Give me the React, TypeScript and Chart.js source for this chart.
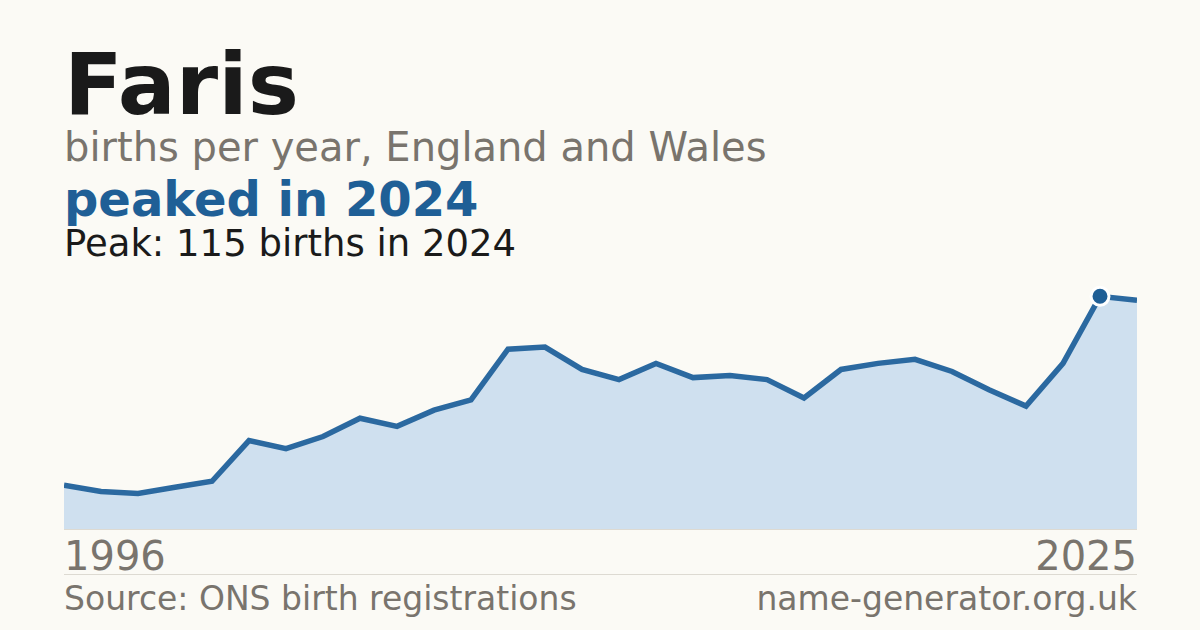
import { Chart, registerables } from 'chart.js';
import React, { useEffect, useRef } from 'react';

Chart.register(...registerables);

const years = [
    1996, 1997, 1998, 1999, 2000, 2001, 2002, 2003, 2004, 2005,
    2006, 2007, 2008, 2009, 2010, 2011, 2012, 2013, 2014, 2015,
    2016, 2017, 2018, 2019, 2020, 2021, 2022, 2023, 2024, 2025,
];
const births = [
    22, 19, 18, 21, 24, 44, 40, 46, 55, 51,
    59, 64, 89, 90, 79, 74, 82, 75, 76, 74,
    65, 79, 82, 84, 78, 69, 61, 82, 115, 113,
];
const peakYear = 2024;

const BG = '#fbfaf5';
const BLUE = '#1f5f96';
const GREY = '#79746d';
const FONT = '"DejaVu Sans", Verdana, sans-serif';

const baseline = {
    id: 'baseline',
    afterDatasetsDraw(chart: Chart) {
        const { ctx, chartArea } = chart;
        ctx.save();
        ctx.strokeStyle = '#dddad2';
        ctx.lineWidth = 1;
        ctx.beginPath();
        ctx.moveTo(chartArea.left, chartArea.bottom - 0.5);
        ctx.lineTo(chartArea.right, chartArea.bottom - 0.5);
        ctx.stroke();
        ctx.restore();
    },
};

const BirthsChart = () => {
    const chartRef = useRef<HTMLCanvasElement>(null);
    const chartInstance = useRef<Chart | null>(null);

    useEffect(() => {
        if (!chartRef.current) return;
        const context = chartRef.current.getContext('2d');
        if (chartInstance.current) chartInstance.current.destroy();

        const peakIdx = years.indexOf(peakYear);

        chartInstance.current = new Chart(context!, {
            type: 'line',
            data: {
                labels: years.map(String),
                datasets: [
                    {
                        data: births,
                        borderColor: '#2b69a0',
                        borderWidth: 5.5,
                        backgroundColor: '#cfe0ef',
                        fill: 'origin',
                        tension: 0,
                        clip: 0,
                        pointRadius: (c: any) => (c.dataIndex === peakIdx ? 9 : 0),
                        pointHoverRadius: 0,
                        pointBackgroundColor: BLUE,
                        pointBorderColor: '#ffffff',
                        pointBorderWidth: 3,
                    },
                ],
            },
            options: {
                responsive: false,
                animation: false,
                layout: { padding: 0 },
                plugins: {
                    legend: { display: false },
                    tooltip: { enabled: false },
                },
                scales: {
                    x: { display: false },
                    y: { display: false, min: 0, max: 125 },
                },
            },
            plugins: [baseline],
        });

        return () => {
            if (chartInstance.current) {
                chartInstance.current.destroy();
                chartInstance.current = null;
            }
        };
    }, []);

    return (
        <canvas
            ref={chartRef}
            width={1073}
            height={254}
            style={{ position: 'absolute', left: 64, top: 276, width: 1073, height: 254 }}
        />
    );
};

const txt = (top: number, size: number, color: string, bold = false): React.CSSProperties => ({
    position: 'absolute',
    top,
    left: 64,
    fontSize: size,
    lineHeight: 1,
    color,
    fontWeight: bold ? 700 : 400,
    whiteSpace: 'nowrap',
});

export default function App() {
    return (
        <div
            style={{
                position: 'fixed',
                left: 0,
                top: 0,
                width: 1200,
                height: 630,
                background: BG,
                fontFamily: FONT,
                overflow: 'hidden',
            }}
        >
            <div style={txt(41, 86, '#1a1a1a', true)}>Faris</div>
            <div style={txt(127, 40, GREY)}>births per year, England and Wales</div>
            <div style={txt(175, 48, BLUE, true)}>peaked in 2024</div>
            <div style={txt(225, 37, '#1a1a1a')}>Peak: 115 births in 2024</div>
            <BirthsChart />
            <div style={txt(536, 40, GREY)}>{years[0]}</div>
            <div style={{ ...txt(536, 40, GREY), left: undefined, right: 63 }}>{years[years.length - 1]}</div>
            <div style={{ position: 'absolute', left: 64, top: 574, width: 1073, height: 1, background: '#dddad2' }} />
            <div style={txt(582, 33, GREY)}>Source: ONS birth registrations</div>
            <div style={{ ...txt(582, 33, GREY), left: undefined, right: 63 }}>name-generator.org.uk</div>
        </div>
    );
}
